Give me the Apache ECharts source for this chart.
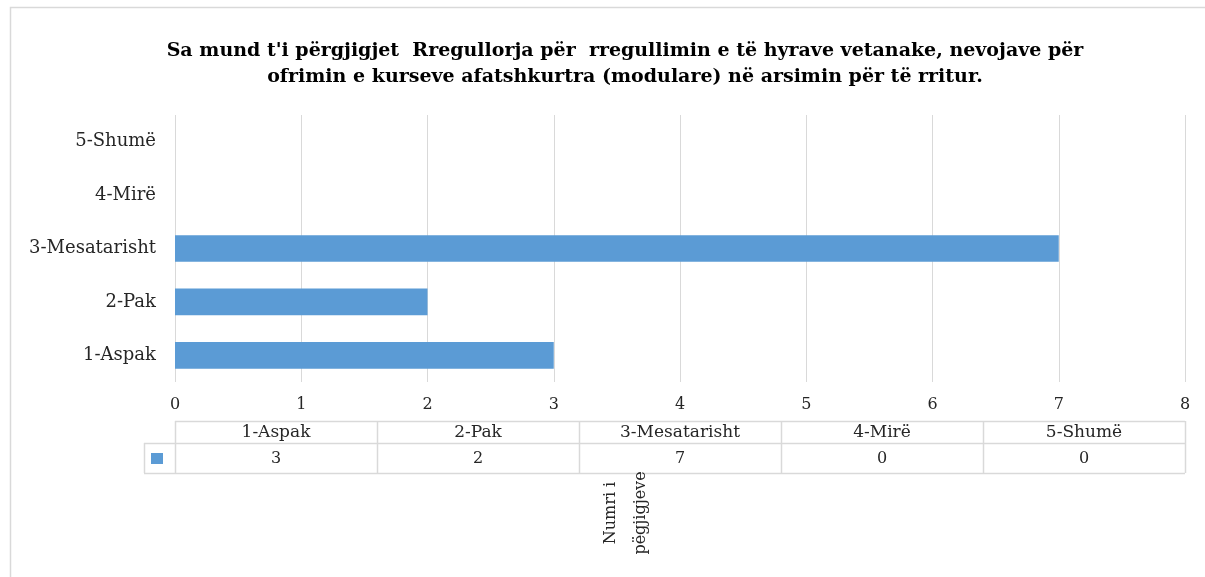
<!DOCTYPE html>
<html>
<head>
<meta charset="utf-8">
<script src="https://cdn.jsdelivr.net/npm/echarts@6/dist/echarts.min.js"></script>
<style>
  html, body { margin: 0; padding: 0; background: #fff; }
  #main { width: 1205px; height: 577px; }
</style>
</head>
<body>
<div id="main"></div>
<script>
// te dhenat
var categories = ['1-Aspak', '2-Pak', '3-Mesatarisht', '4-Mirë', '5-Shumë'];
var values = [3, 2, 7, 0, 0];
var xTicks = [0, 1, 2, 3, 4, 5, 6, 7, 8];
var titleText = "Sa mund t'i përgjigjet  Rregullorja për  rregullimin e të hyrave vetanake, nevojave për\nofrimin e kurseve afatshkurtra (modulare) në arsimin për të rritur.";
var axisName = 'Numri i\npëgjigjeve';

var font = '"DejaVu Serif", "Liberation Serif", serif';
var barColor = '#5b9bd5';
var lineColor = '#d9d9d9';
var textColor = '#262626';

var myChart = echarts.init(document.getElementById('main'));

var option = {
  backgroundColor: '#fff',
  animation: false,
  title: {
    text: titleText,
    left: 620,
    top: 33,
    textAlign: 'center',
    textStyle: {
      fontFamily: font,
      fontSize: 19,
      fontWeight: 'bold',
      color: '#000',
      lineHeight: 26
    }
  },
  grid: {
    left: 175,
    right: 20,
    top: 115,
    bottom: 195,
    containLabel: false
  },
  xAxis: {
    type: 'value',
    min: xTicks[0],
    max: xTicks[xTicks.length - 1],
    interval: 1,
    axisLine: { show: false },
    axisTick: { show: false },
    axisLabel: {
      margin: 15,
      fontFamily: font,
      fontSize: 16,
      color: textColor
    },
    splitLine: { lineStyle: { color: lineColor, width: 1 } }
  },
  yAxis: {
    type: 'category',
    data: categories,
    axisLine: { show: false },
    axisTick: { show: false },
    axisLabel: {
      margin: 19,
      fontFamily: font,
      fontSize: 18,
      color: textColor
    }
  },
  series: [{
    type: 'bar',
    data: values,
    barCategoryGap: '50%',
    itemStyle: { color: barColor }
  }]
};
myChart.setOption(option);

// tabela e te dhenave nen bosht
var x0 = myChart.convertToPixel({ xAxisIndex: 0 }, xTicks[0]);
var x1 = myChart.convertToPixel({ xAxisIndex: 0 }, xTicks[xTicks.length - 1]);
var colW = (x1 - x0) / categories.length;
var rowTop = 421, rowMid = 443, rowBot = 473;
var graphics = [];

// korniza e grafikut
graphics.push({
  type: 'polyline', silent: true,
  shape: { points: [[10.5, 620], [10.5, 7.5], [1210, 7.5]] },
  style: { stroke: lineColor, fill: null, lineWidth: 1.5 }
});

// vijat horizontale
graphics.push({ type: 'line', silent: true, shape: { x1: x0, y1: rowTop + 0.5, x2: x1, y2: rowTop + 0.5 }, style: { stroke: lineColor, lineWidth: 1.5 } });
graphics.push({ type: 'line', silent: true, shape: { x1: 144, y1: rowMid + 0.5, x2: x1, y2: rowMid + 0.5 }, style: { stroke: lineColor, lineWidth: 1.5 } });
graphics.push({ type: 'line', silent: true, shape: { x1: 144, y1: rowBot + 0.5, x2: x1, y2: rowBot + 0.5 }, style: { stroke: lineColor, lineWidth: 1.5 } });
graphics.push({ type: 'line', silent: true, shape: { x1: 144.5, y1: rowMid, x2: 144.5, y2: rowBot }, style: { stroke: lineColor, lineWidth: 1.5 } });

for (var i = 0; i <= categories.length; i++) {
  var xx = Math.round(x0 + i * colW) + 0.5;
  graphics.push({ type: 'line', silent: true, shape: { x1: xx, y1: rowTop, x2: xx, y2: rowBot }, style: { stroke: lineColor, lineWidth: 1.5 } });
}
for (var j = 0; j < categories.length; j++) {
  var cx = x0 + (j + 0.5) * colW;
  graphics.push({
    type: 'text', silent: true, x: cx, y: (rowTop + rowMid) / 2 + 1,
    style: { text: categories[j], align: 'center', verticalAlign: 'middle', font: '17px ' + font, fill: textColor }
  });
  graphics.push({
    type: 'text', silent: true, x: cx, y: (rowMid + rowBot) / 2 + 1,
    style: { text: String(values[j]), align: 'center', verticalAlign: 'middle', font: '16px ' + font, fill: textColor }
  });
}
// shenja e legjendes
graphics.push({ type: 'rect', silent: true, shape: { x: 151, y: 453, width: 12, height: 11 }, style: { fill: barColor } });

// emri i boshtit, i rrotulluar
graphics.push({
  type: 'text', silent: true, x: 626, y: 513, rotation: Math.PI / 2,
  style: { text: axisName, align: 'center', verticalAlign: 'middle', font: '16px ' + font, lineHeight: 30, fill: textColor }
});

myChart.setOption({ graphic: graphics });
</script>
</body>
</html>
